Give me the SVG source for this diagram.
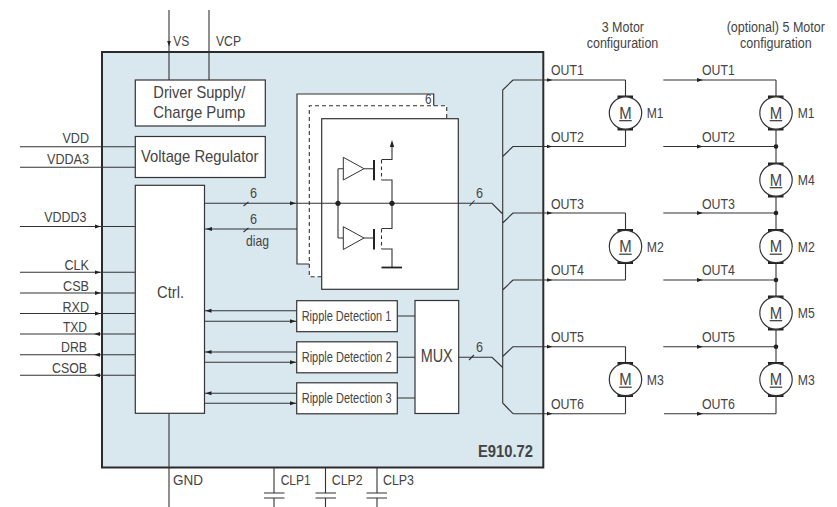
<svg xmlns="http://www.w3.org/2000/svg" width="837" height="507" viewBox="0 0 837 507">
<style>
text{font-family:"Liberation Sans",Arial,sans-serif;fill:#444;font-size:15.5px}
.b{fill:#fff;stroke:#333;stroke-width:1.2}
.w{fill:none;stroke:#333;stroke-width:1.1}
.a{marker-mid:url(#ah)}
.big{font-size:17px}
.r{font-size:14px}
.sm{font-size:15px}
.hd{font-size:14px}
.dot{fill:#222}
.mc{fill:#fff;stroke:#333;stroke-width:1.2}
.br{fill:#222}
</style>
<defs>
<marker id="ah" markerUnits="userSpaceOnUse" markerWidth="7" markerHeight="6" refX="6" refY="3" orient="auto"><path d="M0 1L6 3L0 5z" fill="#222"/></marker>
<g id="motorShape">
<rect class="br" x="-8" y="-17.500" width="15.500" height="3.500"/>
<rect class="br" x="-8" y="14" width="15.500" height="3.500"/>
<circle class="mc" r="16.200"/>
<path d="M-6.300 7.700H6.200" stroke="#333" stroke-width="1.200"/>
</g>
</defs>
<g id="chip">
<rect x="102" y="52" width="441.300" height="415.500" fill="#d9e7ef" stroke="#2b2b2b" stroke-width="2"/>
<text x="478" y="456.700" textLength="55" lengthAdjust="spacingAndGlyphs" style="font-weight:bold;font-size:16px">E910.72</text>
</g>
<g id="stack-back">
<path d="M433.700 118V94H297V264H322" fill="#fff" stroke="#333" stroke-width="1.200"/>
<path d="M446.700 118V105.700H309.300V276.700H322V118z" fill="#fff" stroke="none"/>
<path d="M446.700 118V105.700H309.300V276.700H322" fill="none" stroke="#333" stroke-width="1.100" stroke-dasharray="4 3"/>
<text x="425" y="103.500" class="sm" textLength="6.500" lengthAdjust="spacingAndGlyphs">6</text>
</g>
<g id="driver-stage">
<rect class="b" x="321.700" y="118.700" width="136.600" height="170.600"/>
</g>
<g id="supply">
<rect class="b" x="135.300" y="80" width="130" height="46"/>
<text class="big" x="153.300" y="98" textLength="92" lengthAdjust="spacingAndGlyphs">Driver Supply/</text>
<text class="big" x="153.300" y="118" textLength="92" lengthAdjust="spacingAndGlyphs">Charge Pump</text>
</g>
<g id="regulator">
<rect class="b" x="135.300" y="136.500" width="130" height="41"/>
<text class="big" x="141" y="161.700" textLength="117.500" lengthAdjust="spacingAndGlyphs">Voltage Regulator</text>
</g>
<g id="ctrl">
<rect class="b" x="135.300" y="185.300" width="69.200" height="228"/>
<text class="big" x="157" y="298" textLength="27" lengthAdjust="spacingAndGlyphs">Ctrl.</text>
</g>
<g id="ripple1">
<rect class="b" x="296.700" y="300.700" width="100.600" height="31"/>
<text class="r" x="301.700" y="321" textLength="89.600" lengthAdjust="spacingAndGlyphs">Ripple Detection 1</text>
</g>
<g id="ripple2">
<rect class="b" x="296.700" y="341.800" width="100.600" height="31"/>
<text class="r" x="301.700" y="362" textLength="90" lengthAdjust="spacingAndGlyphs">Ripple Detection 2</text>
</g>
<g id="ripple3">
<rect class="b" x="296.700" y="382.800" width="100.600" height="31"/>
<text class="r" x="301.700" y="403" textLength="90" lengthAdjust="spacingAndGlyphs">Ripple Detection 3</text>
</g>
<g id="mux">
<rect class="b" x="415" y="300.500" width="43.700" height="113"/>
<text x="420.700" y="362.300" textLength="32" lengthAdjust="spacingAndGlyphs" style="font-size:19px">MUX</text>
</g>
<g id="connectors">
<path class="w a" d="M169 10V46.500V80"/>
<path class="w" d="M209 10V80"/>
<path class="w" d="M20 146.700H135M20 167.300H135"/>
<path class="w a" d="M20 226.500H100.700H135"/>
<path class="w a" d="M20 272.300H100.700H135"/>
<path class="w a" d="M20 293H100.700H135"/>
<path class="w a" d="M20 313.500H100.700H135"/>
<path class="w a" d="M135 334H94H20"/>
<path class="w a" d="M135 354.700H94H20"/>
<path class="w a" d="M135 375.200H94H20"/>
<path class="w a" d="M204.500 203.300H296H338"/>
<path class="w" d="M338 203.300H492L502.700 214"/>
<path class="w a" d="M297 229H206H204.500"/>
<path class="w" d="M243.500 206L248.500 202M243.500 232L248.500 228M469.500 206L474.500 200.500M469 360L474 355"/>
<path class="w a" d="M296.700 310.800H205.500H204.500"/>
<path class="w a" d="M204.500 321.300H296H296.700"/>
<path class="w a" d="M296.700 352H205.500H204.500"/>
<path class="w a" d="M204.500 362.300H296H296.700"/>
<path class="w a" d="M296.700 393.300H205.500H204.500"/>
<path class="w a" d="M204.500 403.300H296H296.700"/>
<path class="w" d="M397.300 316H415M397.300 357.300H415M397.300 398H415"/>
<path class="w" d="M458.700 357.300H492L502.700 367.500"/>
<path class="w" d="M513 80L502.700 90V403L513 413.700M502.700 156.500L513 146.500M502.700 223L513 213M502.700 290L513 280M502.700 356.500L513 346.700"/>
<path class="w a" d="M513 80H552.500H625.500"/><path class="w" d="M625.500 80V96"/>
<path class="w a" d="M513 146.500H552.500H625.500"/><path class="w" d="M625.500 146.500V130"/>
<path class="w a" d="M513 213H552.500H625.500"/><path class="w" d="M625.500 213V229"/>
<path class="w a" d="M513 280H552.500H625.500"/><path class="w" d="M625.500 280V263"/>
<path class="w a" d="M513 346.700H552.500H625.500"/><path class="w" d="M625.500 346.700V363"/>
<path class="w a" d="M513 413.700H552.500H625.500"/><path class="w" d="M625.500 413.700V396"/>
<path class="w a" d="M663.300 80H703H776"/><path class="w" d="M776 80V96"/>
<path class="w a" d="M663.300 146.500H703H776"/>
<path class="w a" d="M663.300 213H703H776"/>
<path class="w a" d="M663.300 280H703H776"/>
<path class="w a" d="M663.300 346.700H703H776"/>
<path class="w a" d="M664 413.700H703H776"/><path class="w" d="M776 413.700V396"/>
<path class="w" d="M776 130V396"/>
<path class="w" d="M169 413.300V507M274 467.500V493M274 498V507M325.500 467.500V493M325.500 498V507M377 467.500V493M377 498V507"/>
<path class="w" d="M264 493H284.500M264 498H284.500M315.500 493H336M315.500 498H336M366.500 493H387M366.500 498H387"/>
<circle class="dot" cx="776" cy="146.500" r="2.300"/>
<circle class="dot" cx="776" cy="213" r="2.300"/>
<circle class="dot" cx="776" cy="280" r="2.300"/>
<circle class="dot" cx="776" cy="346.700" r="2.300"/>
</g>
<g id="half-bridge">
<path class="w" d="M338 168.700V238M343.300 168.700H338M343.300 238H338"/>
<path d="M343.300 157.300V180L364 168.700z" fill="#fff" stroke="#333" stroke-width="1"/>
<path d="M343.300 226.700V249.500L364 238z" fill="#fff" stroke="#333" stroke-width="1"/>
<path class="w" d="M364 168.700H374M364 238H374"/>
<path d="M374 160V180.300M374 229V249.500" stroke="#222" stroke-width="2" fill="none"/>
<path class="w" d="M381.500 160V180M381.500 229V249" stroke-dasharray="3.500 3"/>
<path class="w" d="M392 147V159.500H381.500M381.500 180H392V203.300V228.500H381.500M381.500 249H392V267.500"/>
<path d="M392 140L389.800 147H394.200z" fill="#222"/>
<path d="M381.500 267.500H402" stroke="#222" stroke-width="1.800"/>
<circle class="dot" cx="338" cy="203.300" r="2.600"/>
<circle class="dot" cx="392" cy="203.300" r="2.600"/>
</g>
<g id="motor-left-1" transform="translate(625.500 113)"><use href="#motorShape"/><text x="-6.200" y="5.500" textLength="12.400" lengthAdjust="spacingAndGlyphs" class="big">M</text></g>
<g id="motor-left-2" transform="translate(625.500 246.500)"><use href="#motorShape"/><text x="-6.200" y="5.500" textLength="12.400" lengthAdjust="spacingAndGlyphs" class="big">M</text></g>
<g id="motor-left-3" transform="translate(625.500 379.500)"><use href="#motorShape"/><text x="-6.200" y="5.500" textLength="12.400" lengthAdjust="spacingAndGlyphs" class="big">M</text></g>
<g id="motor-right-1" transform="translate(776 113)"><use href="#motorShape"/><text x="-6.200" y="5.500" textLength="12.400" lengthAdjust="spacingAndGlyphs" class="big">M</text></g>
<g id="motor-right-4" transform="translate(776 180)"><use href="#motorShape"/><text x="-6.200" y="5.500" textLength="12.400" lengthAdjust="spacingAndGlyphs" class="big">M</text></g>
<g id="motor-right-2" transform="translate(776 246.500)"><use href="#motorShape"/><text x="-6.200" y="5.500" textLength="12.400" lengthAdjust="spacingAndGlyphs" class="big">M</text></g>
<g id="motor-right-5" transform="translate(776 313)"><use href="#motorShape"/><text x="-6.200" y="5.500" textLength="12.400" lengthAdjust="spacingAndGlyphs" class="big">M</text></g>
<g id="motor-right-3" transform="translate(776 379.500)"><use href="#motorShape"/><text x="-6.200" y="5.500" textLength="12.400" lengthAdjust="spacingAndGlyphs" class="big">M</text></g>
<g id="labels">
<text x="173.300" y="46" textLength="16" lengthAdjust="spacingAndGlyphs">VS</text>
<text x="216" y="46" textLength="25" lengthAdjust="spacingAndGlyphs">VCP</text>
<text x="62.500" y="143" textLength="26.500" lengthAdjust="spacingAndGlyphs">VDD</text>
<text x="47" y="164" textLength="42" lengthAdjust="spacingAndGlyphs">VDDA3</text>
<text x="44.300" y="222" textLength="42.200" lengthAdjust="spacingAndGlyphs">VDDD3</text>
<text x="64.500" y="270" textLength="24.500" lengthAdjust="spacingAndGlyphs">CLK</text>
<text x="63" y="291" textLength="26" lengthAdjust="spacingAndGlyphs">CSB</text>
<text x="62.500" y="311.500" textLength="26.500" lengthAdjust="spacingAndGlyphs">RXD</text>
<text x="63" y="332" textLength="24" lengthAdjust="spacingAndGlyphs">TXD</text>
<text x="61" y="352" textLength="26" lengthAdjust="spacingAndGlyphs">DRB</text>
<text x="52" y="372.700" textLength="35" lengthAdjust="spacingAndGlyphs">CSOB</text>
<text x="250" y="198" class="sm" textLength="7" lengthAdjust="spacingAndGlyphs">6</text>
<text x="250" y="224" class="sm" textLength="7" lengthAdjust="spacingAndGlyphs">6</text>
<text x="246" y="246" class="sm" textLength="23" lengthAdjust="spacingAndGlyphs">diag</text>
<text x="476" y="198" class="sm" textLength="7" lengthAdjust="spacingAndGlyphs">6</text>
<text x="476" y="352" class="sm" textLength="7" lengthAdjust="spacingAndGlyphs">6</text>
<text x="173" y="485" textLength="30" lengthAdjust="spacingAndGlyphs">GND</text>
<text x="280.700" y="485" textLength="30" lengthAdjust="spacingAndGlyphs">CLP1</text>
<text x="331.700" y="485" textLength="31" lengthAdjust="spacingAndGlyphs">CLP2</text>
<text x="383" y="485" textLength="31" lengthAdjust="spacingAndGlyphs">CLP3</text>
<text class="hd" x="601.700" y="32" textLength="42.300" lengthAdjust="spacingAndGlyphs">3 Motor</text>
<text class="hd" x="586.700" y="48.300" textLength="71.600" lengthAdjust="spacingAndGlyphs">configuration</text>
<text class="hd" x="726.700" y="32" textLength="98.300" lengthAdjust="spacingAndGlyphs">(optional) 5 Motor</text>
<text class="hd" x="740" y="48.300" textLength="71.700" lengthAdjust="spacingAndGlyphs">configuration</text>
<text x="551" y="75.300" textLength="32.700" lengthAdjust="spacingAndGlyphs">OUT1</text>
<text x="551" y="142" textLength="33" lengthAdjust="spacingAndGlyphs">OUT2</text>
<text x="551" y="208.700" textLength="33" lengthAdjust="spacingAndGlyphs">OUT3</text>
<text x="551" y="275" textLength="33" lengthAdjust="spacingAndGlyphs">OUT4</text>
<text x="551" y="342" textLength="33" lengthAdjust="spacingAndGlyphs">OUT5</text>
<text x="551" y="409" textLength="33" lengthAdjust="spacingAndGlyphs">OUT6</text>
<text x="702" y="75.300" textLength="32.700" lengthAdjust="spacingAndGlyphs">OUT1</text>
<text x="702" y="142" textLength="33" lengthAdjust="spacingAndGlyphs">OUT2</text>
<text x="702" y="208.700" textLength="33" lengthAdjust="spacingAndGlyphs">OUT3</text>
<text x="702" y="275" textLength="33" lengthAdjust="spacingAndGlyphs">OUT4</text>
<text x="702" y="342" textLength="33" lengthAdjust="spacingAndGlyphs">OUT5</text>
<text x="702" y="409" textLength="33" lengthAdjust="spacingAndGlyphs">OUT6</text>
<text x="646.700" y="118" textLength="16.800" lengthAdjust="spacingAndGlyphs">M1</text>
<text x="646.700" y="251.500" textLength="17" lengthAdjust="spacingAndGlyphs">M2</text>
<text x="646.700" y="384.500" textLength="17" lengthAdjust="spacingAndGlyphs">M3</text>
<text x="797.700" y="118" textLength="16.800" lengthAdjust="spacingAndGlyphs">M1</text>
<text x="797.700" y="185" textLength="17" lengthAdjust="spacingAndGlyphs">M4</text>
<text x="797.700" y="251.500" textLength="17" lengthAdjust="spacingAndGlyphs">M2</text>
<text x="797.700" y="318" textLength="17" lengthAdjust="spacingAndGlyphs">M5</text>
<text x="797.700" y="384.500" textLength="17" lengthAdjust="spacingAndGlyphs">M3</text>
</g>
</svg>
